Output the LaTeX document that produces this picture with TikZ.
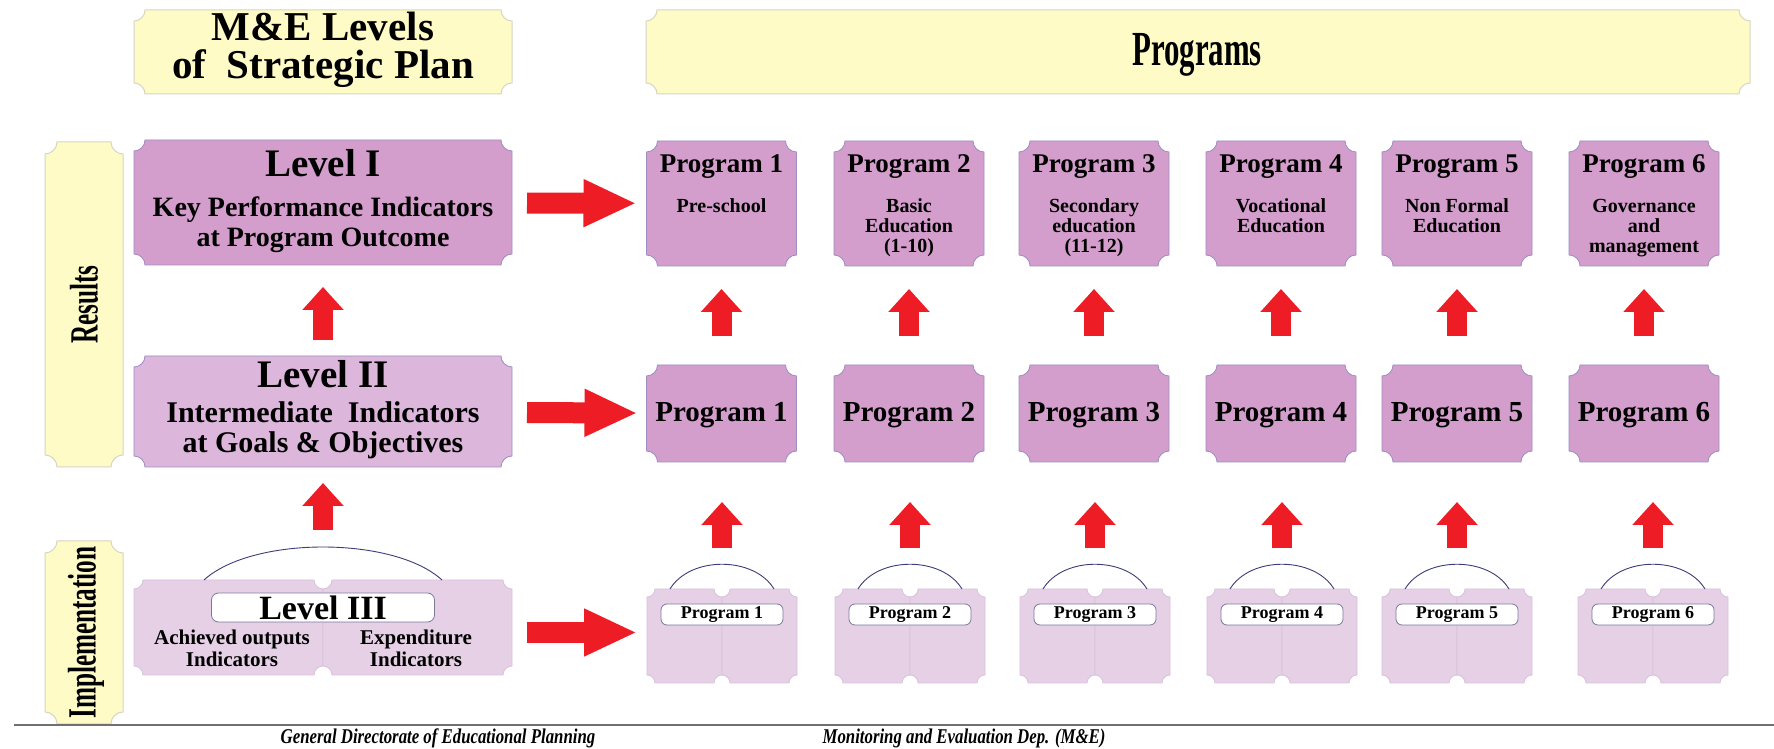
\documentclass[tikz,border=0pt]{standalone}
\usepackage{fontspec}
\setmainfont{Liberation Serif}
\newfontfamily\condfont[FakeStretch=0.63]{Liberation Serif}
\newfontfamily\footfont[FakeStretch=0.8]{Liberation Serif}
\usetikzlibrary{arrows.meta,calc,backgrounds}
\definecolor{ylw}{HTML}{FFFBC6}
\definecolor{ylwb}{HTML}{D6D6C4}
\definecolor{pdark}{HTML}{D39ECB}
\definecolor{pmid}{HTML}{DDB6DB}
\definecolor{plight}{HTML}{E6D0E6}
\definecolor{pbord}{HTML}{9C8DC4}
\definecolor{lbord}{HTML}{D8C2DC}
\definecolor{arrred}{HTML}{EE1C25}
\definecolor{arcc}{HTML}{3C3C78}
\definecolor{lblb}{HTML}{7A7A9E}
\definecolor{rulec}{HTML}{707070}
\newcommand\bsz[1]{\bfseries\fontsize{#1}{#1}\selectfont}
\newcommand\csz[1]{\condfont\bfseries\fontsize{#1}{#1}\selectfont}
\newcommand\fsz[1]{\footfont\bfseries\itshape\fontsize{#1}{#1}\selectfont}
\newcommand\scoopshape[4]{%
 \path[#4] let \p1=#1, \p2=#2 in
 (\x1+#3,\y2) -- (\x2-#3,\y2) arc[start angle=180,end angle=270,radius=#3]
 -- (\x2,\y1+#3) arc[start angle=90,end angle=180,radius=#3]
 -- (\x1+#3,\y1) arc[start angle=0,end angle=90,radius=#3]
 -- (\x1,\y2-#3) arc[start angle=270,end angle=360,radius=#3] -- cycle;}
\begin{document}
\begin{tikzpicture}[x=1pt,y=1pt,
  hold/.style={inner sep=0pt,outer sep=0pt,draw=none},
  txt/.style={anchor=base,inner sep=0pt,outer sep=0pt},
  uparrow/.style={draw=arrred,line width=20pt,-{Triangle[length=23pt,width=40pt]}},
  rarrow/.style={draw=arrred,line width=21pt,-{Triangle[length=53pt,width=44pt]}},
  arcline/.style={draw=arcc,line width=0.9pt},
  lbl/.style={draw=lblb,fill=white,rounded corners=7pt,line width=0.8pt,inner sep=0pt},
  ybox/.style={fill=ylw,draw=ylwb,line width=1pt},
  dbox/.style={fill=pdark,draw=pbord,line width=0.8pt},
  mbox/.style={fill=pmid,draw=pbord,line width=0.8pt},
  lbox/.style={fill=plight,draw=lbord,line width=0.8pt}]
\useasboundingbox (0,0) rectangle (1774,749);
% holders
\node[hold,minimum width=378pt,minimum height=84pt] (me) at (323,697) {};
\node[hold,minimum width=1104pt,minimum height=84pt] (pg) at (1198,697) {};
\node[hold,minimum width=78pt,minimum height=325pt] (res) at (84,444.5) {};
\node[hold,minimum width=78pt,minimum height=183pt] (imp) at (84,116.5) {};
\node[hold,minimum width=378pt,minimum height=125pt] (L1) at (323,546.5) {};
\node[hold,minimum width=378pt,minimum height=111pt] (L2) at (323,337.5) {};
\node[hold,minimum width=378pt,minimum height=95pt] (L3) at (323,121.5) {};
\foreach \i/\x/\xb in {1/721.5/722,2/909/910,3/1094/1095,4/1281/1282,5/1457/1457,6/1644/1653}{
 \node[hold,minimum width=150pt,minimum height=125pt] (T\i) at (\x,545.5) {};
 \node[hold,minimum width=150pt,minimum height=97pt] (M\i) at (\x,335.5) {};
 \node[hold,minimum width=150pt,minimum height=94pt] (B\i) at (\xb,113) {};
}
% shapes
\begin{pgfonlayer}{background}
\fill[white] (0,0) rectangle (1774,749);
\scoopshape{(me.south west)}{(me.north east)}{11pt}{ybox}
\scoopshape{(pg.south west)}{(pg.north east)}{11pt}{ybox}
\scoopshape{(res.south west)}{(res.north east)}{12pt}{ybox}
\scoopshape{(imp.south west)}{(imp.north east)}{12pt}{ybox}
\scoopshape{(L1.south west)}{(L1.north east)}{11pt}{dbox}
\scoopshape{(L2.south west)}{(L2.north east)}{11pt}{mbox}
\scoopshape{(L3.south west)}{(L3.north)}{9pt}{lbox}
\scoopshape{(L3.south)}{(L3.north east)}{9pt}{lbox}
\foreach \i in {1,...,6}{
 \scoopshape{(T\i.south west)}{(T\i.north east)}{11pt}{dbox}
 \scoopshape{(M\i.south west)}{(M\i.north east)}{11pt}{dbox}
 \scoopshape{(B\i.south west)}{(B\i.north)}{8pt}{lbox}
 \scoopshape{(B\i.south)}{(B\i.north east)}{8pt}{lbox}
}
\end{pgfonlayer}
% header texts
\node[txt,font=\bsz{41}] at (323,708) {M\&E Levels};
\node[txt,font=\bsz{41}] at (323,670) {of~ Strategic Plan};
\node[txt,font=\csz{49}] at (1197,683) {Programs};
\node[font=\csz{40},rotate=90,inner sep=0pt] at (res) {Results};
\node[font=\csz{40},rotate=90,inner sep=0pt] at ([xshift=2pt]imp.center) {Implementation};
% level texts
\node[txt,font=\bsz{39}] at (323,572) {Level I};
\node[txt,font=\bsz{28}] at (323,532) {Key Performance Indicators};
\node[txt,font=\bsz{28}] at (323,502) {at Program Outcome};
\node[txt,font=\bsz{39}] at (323,361) {Level II};
\node[txt,font=\bsz{30}] at (323,326) {Intermediate~ Indicators};
\node[txt,font=\bsz{30}] at (323,296) {at Goals \& Objectives};
\draw[arcline] ([xshift=-119pt]L3.north) .. controls +(48,44) and +(-48,44) .. ([xshift=119pt]L3.north);
\node[lbl,minimum width=223pt,minimum height=29pt,font=\bsz{34}] (L3t) at ([yshift=-27.5pt]L3.north) {Level III};
\node[txt,font=\bsz{21}] at (232,104) {Achieved outputs};
\node[txt,font=\bsz{21}] at (232,82) {Indicators};
\node[txt,font=\bsz{21}] at (416,104) {Expenditure};
\node[txt,font=\bsz{21}] at (416,82) {Indicators};
% program texts
\foreach \i in {1,...,6}{
 \node[txt,font=\bsz{27}] at ([yshift=-32pt]T\i.north) {Program \i};
 \node[txt,font=\bsz{29}] at ([yshift=-8.5pt]M\i.center) {Program \i};
 \draw[arcline] ([xshift=-52pt]B\i.north) .. controls +(20,33) and +(-20,33) .. ([xshift=52pt]B\i.north);
 \node[lbl,rounded corners=6pt,minimum width=122pt,minimum height=21pt,font=\bsz{18}] (BL\i) at ([yshift=-25.5pt]B\i.north) {Program \i};
}
\foreach \i/\lines in {1/{Pre-school},2/{Basic,Education,(1-10)},3/{Secondary,education,(11-12)},4/{Vocational,Education},5/{Non Formal,Education},6/{Governance,and,management}}{
 \foreach \l [count=\k] in \lines {
  \node[txt,font=\bsz{20}] at ([yshift={-72pt-20pt*(\k-1)}]T\i.north) {\l};
 }
}
% arrows
\draw[uparrow,shorten <=16pt,shorten >=22pt] (L2) -- (L1);
\draw[uparrow,shorten <=50pt,shorten >=16pt] (L3) -- (L2);
\draw[rarrow,shorten <=15pt,shorten >=10pt] (L1) -- (T1);
\draw[rarrow,shorten <=15pt,shorten >=9pt] (L2) -- (M1);
\draw[rarrow,shorten <=15pt,shorten >=10pt] ([yshift=-5pt]L3.east) -- ([yshift=-5pt]L3.east -| B1.west);
\foreach \i in {1,...,6}{
 \draw[uparrow,shorten <=29pt,shorten >=23pt] (M\i) -- (T\i);
 \draw[uparrow,shorten <=41pt,shorten >=40pt] (B\i.north) -- (B\i.north |- M\i.south);
}
% footer
\draw[rulec,line width=1.5pt] (14,24) -- (1774,24);
\node[txt,font=\fsz{21}] at (438,5) {General Directorate of Educational Planning};
\node[txt,font=\fsz{21}] at (964,5) {Monitoring and Evaluation Dep. (M\&E)};
\end{tikzpicture}
\end{document}
